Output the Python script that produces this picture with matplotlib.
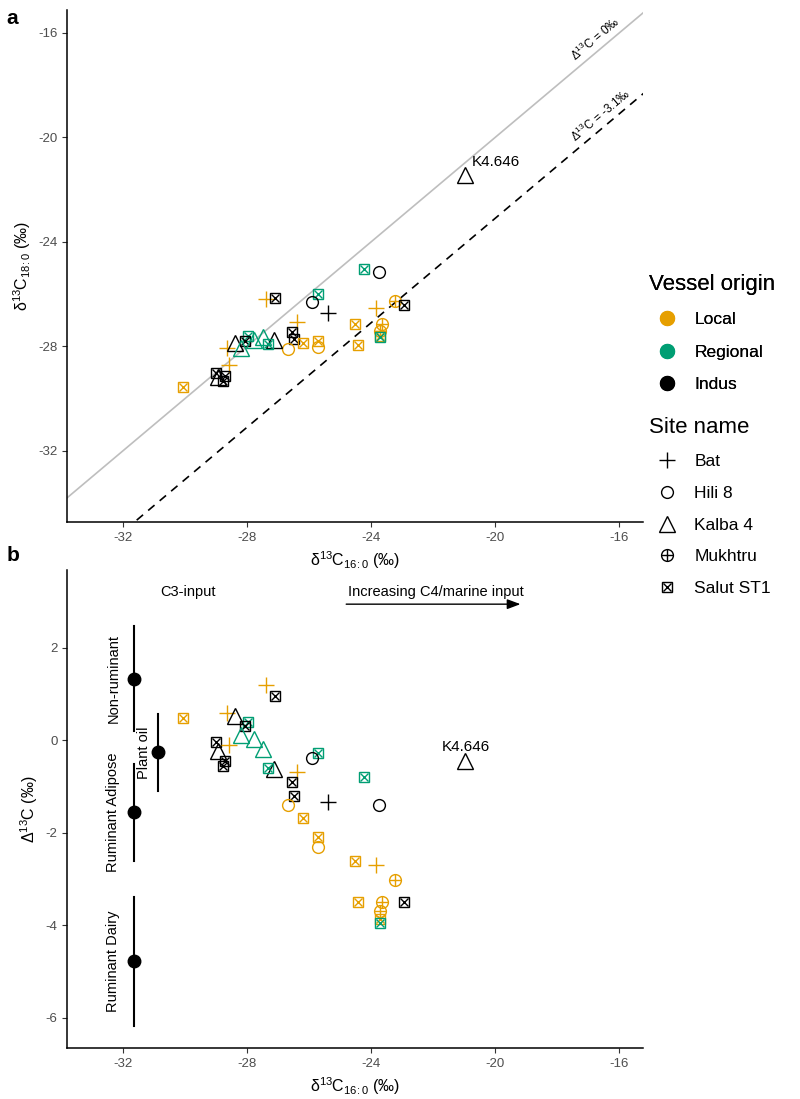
import matplotlib.pyplot as plt
from matplotlib.lines import Line2D
from matplotlib.legend_handler import HandlerTuple
import numpy as np

plt.rcParams['font.family'] = ['Liberation Sans', 'DejaVu Sans']
plt.rcParams['mathtext.fontset'] = 'custom'
plt.rcParams['mathtext.rm'] = 'Liberation Sans'
plt.rcParams['mathtext.it'] = 'Liberation Sans:italic'
plt.rcParams['axes.unicode_minus'] = False

# amostras: origem, sitio, d13C16:0, d13C18:0
origin = ['Local', 'Indus', 'Local', 'Local', 'Indus', 'Regional', 'Indus', 'Regional',
          'Regional', 'Regional', 'Indus', 'Local', 'Indus', 'Indus', 'Indus', 'Regional',
          'Indus', 'Local', 'Indus', 'Indus', 'Local', 'Indus', 'Regional', 'Indus',
          'Local', 'Local', 'Local', 'Local', 'Local', 'Local', 'Local', 'Local',
          'Indus', 'Local', 'Local', 'Regional', 'Indus', 'Indus', 'Regional']
site = ['Bat', 'Salut ST1', 'Salut ST1', 'Bat', 'Kalba 4', 'Salut ST1', 'Salut ST1', 'Kalba 4',
        'Kalba 4', 'Kalba 4', 'Salut ST1', 'Bat', 'Kalba 4', 'Salut ST1', 'Salut ST1', 'Salut ST1',
        'Hili 8', 'Bat', 'Salut ST1', 'Salut ST1', 'Hili 8', 'Bat', 'Salut ST1', 'Hili 8',
        'Salut ST1', 'Salut ST1', 'Hili 8', 'Salut ST1', 'Bat', 'Mukhtru', 'Salut ST1', 'Mukhtru',
        'Salut ST1', 'Mukhtru', 'Salut ST1', 'Salut ST1', 'Kalba 4', 'Kalba 4', 'Salut ST1']
d16 = [-27.40, -27.10, -30.07, -28.64, -28.39, -27.99, -28.09, -28.20,
       -27.80, -27.49, -29.01, -28.60, -28.93, -28.71, -28.78, -25.73,
       -25.91, -26.40, -26.56, -26.50, -26.70, -25.41, -24.23, -23.74,
       -26.20, -25.72, -25.72, -24.53, -23.84, -23.25, -24.44, -23.64,
       -22.94, -23.73, -23.73, -23.73, -20.99, -27.13, -27.33]
d18 = [-26.21, -26.15, -29.58, -28.06, -27.87, -27.60, -27.79, -28.09,
       -27.78, -27.67, -29.04, -28.71, -29.17, -29.16, -29.33, -26.01,
       -26.30, -27.09, -27.47, -27.71, -28.11, -26.74, -25.03, -25.15,
       -27.88, -27.82, -28.03, -27.14, -26.54, -26.26, -27.94, -27.14,
       -26.44, -27.43, -27.60, -27.67, -21.44, -27.76, -27.92]

# intervalos de referencia (media +- dp)
ref_names = ['Non-ruminant', 'Plant oil', 'Ruminant Adipose', 'Ruminant Dairy']
ref_x = [-31.65, -30.87, -31.65, -31.65]
ref_mean = [1.33, -0.26, -1.56, -4.78]
ref_sd = [1.14, 0.83, 1.05, 1.40]
ref_label_x = [-32.32, -31.32, -32.32, -32.32]

origins = ['Local', 'Regional', 'Indus']
sites = ['Bat', 'Hili 8', 'Kalba 4', 'Mukhtru', 'Salut ST1']
cores = {'Local': '#E69F00', 'Regional': '#009E73', 'Indus': '#000000'}

d16 = np.array(d16)
d18 = np.array(d18)
delta = d18 - d16


def estilo(s, cor):
    # um ou dois marcadores sobrepostos por sitio
    if s == 'Bat':
        return [dict(marker='+', ms=11, mew=1.0, color=cor)]
    if s == 'Hili 8':
        return [dict(marker='o', ms=8.5, mew=1.0, mfc='none', color=cor)]
    if s == 'Kalba 4':
        return [dict(marker='^', ms=11, mew=1.0, mfc='none', color=cor)]
    if s == 'Mukhtru':
        return [dict(marker='o', ms=8.5, mew=1.0, mfc='none', color=cor),
                dict(marker='+', ms=8.5, mew=1.0, color=cor)]
    return [dict(marker='s', ms=7.5, mew=1.0, mfc='none', color=cor),
            dict(marker='x', ms=5.5, mew=1.0, color=cor)]


def pontos(ax, xs, ys):
    for i in range(len(xs)):
        for kw in estilo(site[i], cores[origin[i]]):
            ax.plot(xs[i], ys[i], ls='none', **kw)


def eixo(ax):
    for sp in ['top', 'right']:
        ax.spines[sp].set_visible(False)
    for sp in ['left', 'bottom']:
        ax.spines[sp].set_linewidth(1.1)
    ax.tick_params(direction='out', length=3.5, width=0.8, colors='#333333',
                   labelsize=9.5, labelcolor='#4D4D4D')
    ax.set_xticks([-32, -28, -24, -20, -16])
    ax.set_xlim(-33.81, -15.23)


xlab = r'δ$^{13}$C$_{16\!{:}0}$ (‰)'

fig = plt.figure(figsize=(8, 10.99), dpi=100)
ax1 = fig.add_axes([0.084, 0.525, 0.72, 0.466])
ax2 = fig.add_axes([0.084, 0.046, 0.72, 0.435])

# painel a
eixo(ax1)
ax1.set_ylim(-34.74, -15.12)
ax1.set_yticks([-32, -28, -24, -20, -16])
xx = np.array([-40, -10])
ax1.plot(xx, xx, color='#BEBEBE', lw=1.2)
ax1.plot(xx, xx - 3.1, color='black', lw=1.2, dashes=(5, 4))
pontos(ax1, d16, d18)
ax1.text(-20.75, -20.95, 'K4.646', fontsize=11, ha='left', va='center')
ax1.text(-16.6, -16.6 + 0.15, r'$\Delta^{13}$C = 0‰', fontsize=8.5, rotation=45,
         transform_rotates_text=True, rotation_mode='anchor', ha='center', va='bottom')
ax1.text(-16.45, -16.45 - 3.1 + 0.15, r'$\Delta^{13}$C = -3.1‰', fontsize=8.5, rotation=45,
         transform_rotates_text=True, rotation_mode='anchor', ha='center', va='bottom')
ax1.set_xlabel(xlab, fontsize=11.5, labelpad=4)
ax1.set_ylabel(r'δ$^{13}$C$_{18\!{:}0}$ (‰)', fontsize=11.5, labelpad=4)

# painel b
eixo(ax2)
ax2.set_ylim(-6.66, 3.67)
ax2.set_yticks([-6, -4, -2, 0, 2])
for i in range(len(ref_names)):
    ax2.plot([ref_x[i], ref_x[i]], [ref_mean[i] - ref_sd[i], ref_mean[i] + ref_sd[i]],
             color='black', lw=1.5)
    ax2.plot(ref_x[i], ref_mean[i], 'o', color='black', ms=9)
    ax2.text(ref_label_x[i], ref_mean[i], ref_names[i], rotation=90, fontsize=10.5,
             ha='center', va='center')
pontos(ax2, d16, delta)
ax2.text(-20.94, -0.15, 'K4.646', fontsize=11, ha='center', va='center')
ax2.text(-29.9, 3.2, 'C3-input', fontsize=10.5, ha='center', va='center')
ax2.text(-24.75, 3.2, 'Increasing C4/marine input', fontsize=10.5, ha='left', va='center')
ax2.annotate('', xy=(-19.1, 2.94), xytext=(-24.9, 2.94),
             arrowprops=dict(arrowstyle='-|>,head_length=0.8,head_width=0.3',
                             color='black', lw=1.0))
ax2.set_xlabel(xlab, fontsize=11.5, labelpad=4)
ax2.set_ylabel(r'$\Delta^{13}$C (‰)', fontsize=11.5, labelpad=4)

fig.text(0.008, 0.992, 'a', fontsize=15, fontweight='bold', va='top')
fig.text(0.008, 0.503, 'b', fontsize=15, fontweight='bold', va='top')

# legendas
h_orig = [Line2D([], [], marker='o', ls='none', ms=10, color=cores[o]) for o in origins]
leg1 = fig.legend(h_orig, origins, title='Vessel origin', loc='upper left',
                  bbox_to_anchor=(0.792, 0.765), frameon=False, fontsize=12.5,
                  title_fontsize=16, labelspacing=1.0, handletextpad=0.6,
                  alignment='left')
fig.add_artist(leg1)

h_site = []
for s in sites:
    hs = tuple(Line2D([], [], ls='none', **kw) for kw in estilo(s, 'black'))
    h_site.append(hs)
fig.legend(h_site, sites, title='Site name', loc='upper left',
           bbox_to_anchor=(0.792, 0.635), frameon=False, fontsize=12.5,
           title_fontsize=16, labelspacing=0.95, handletextpad=0.6,
           alignment='left', handler_map={tuple: HandlerTuple(ndivide=1, pad=0)})

plt.savefig('out.png', dpi=100)
